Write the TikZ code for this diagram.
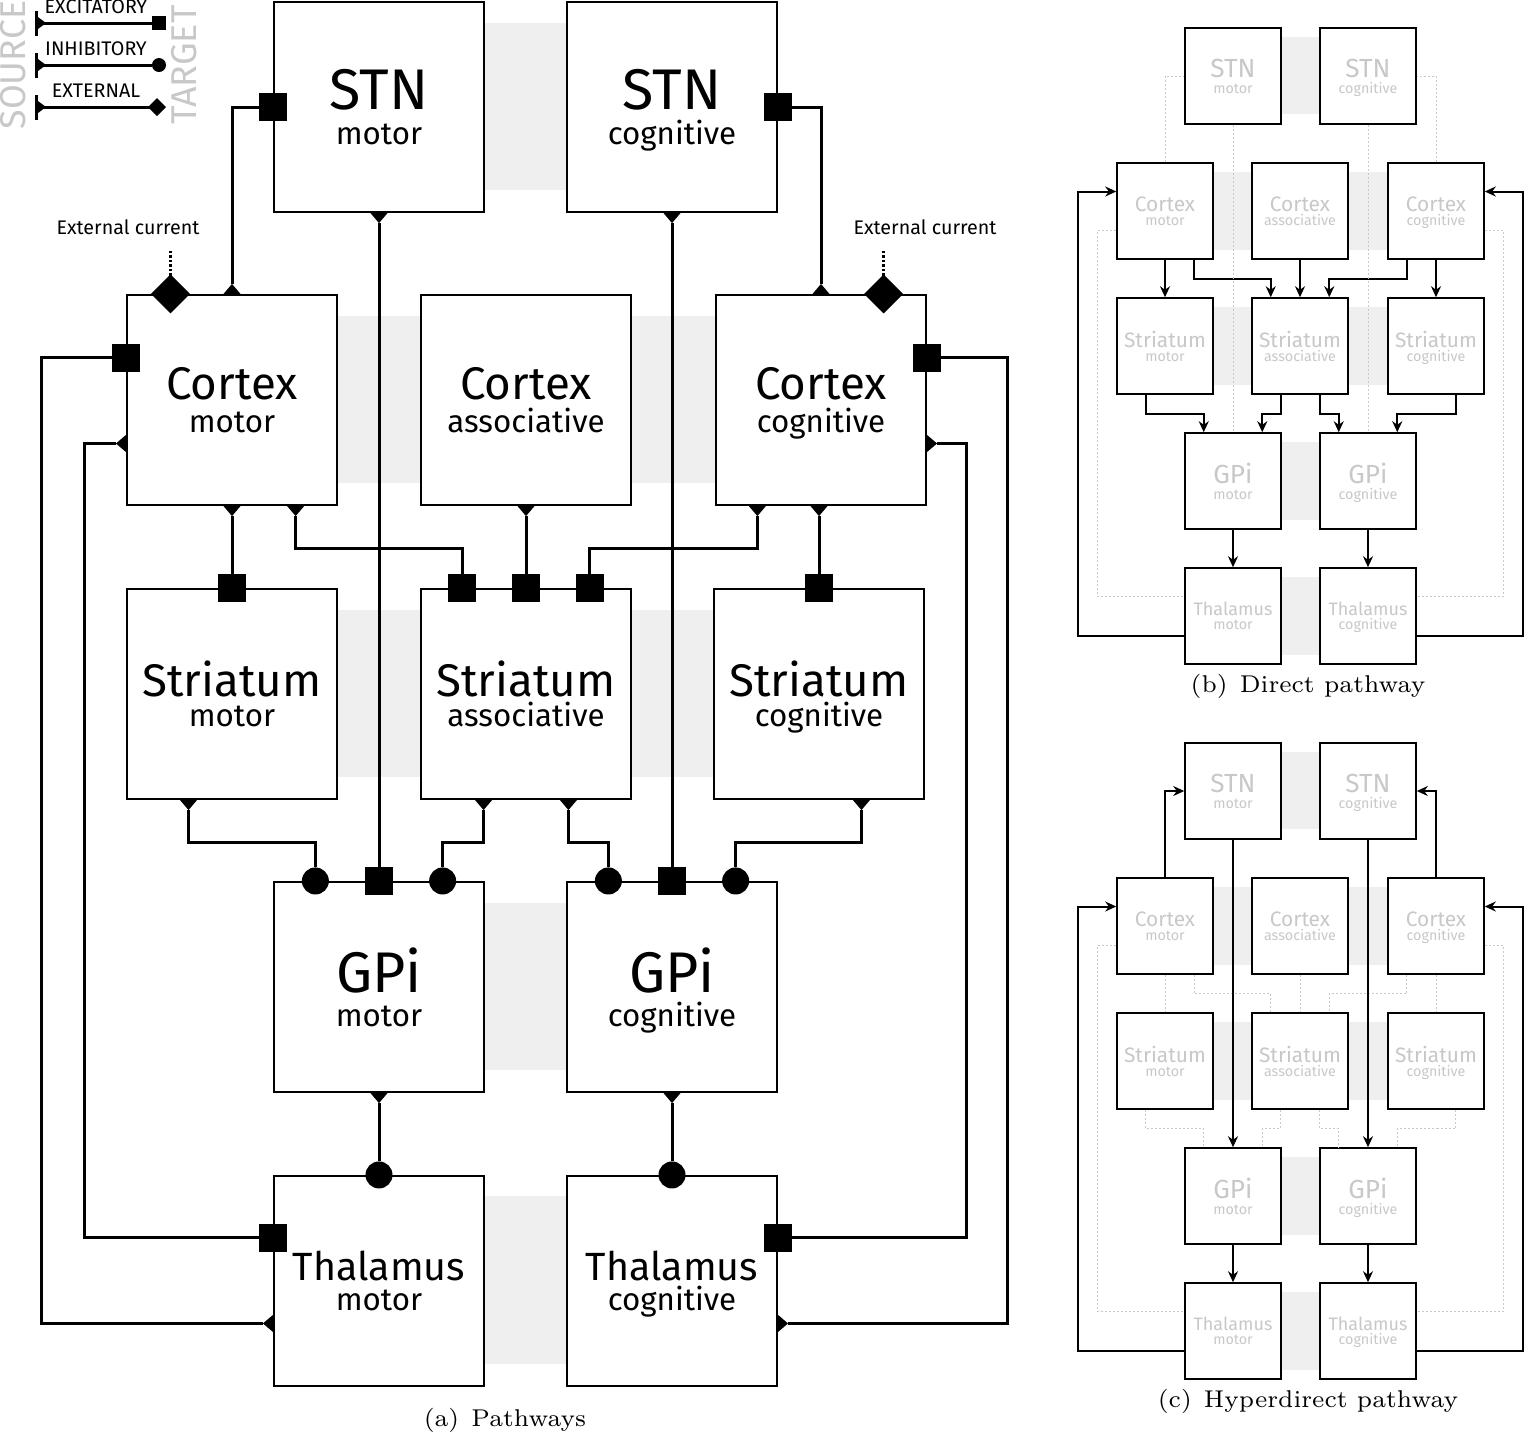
\documentclass[tikz,border=0pt]{standalone}
\usepackage{fontspec}
\newfontfamily\fira{Fira Sans}
\usetikzlibrary{arrows.meta,calc}
\definecolor{band}{HTML}{EFEFEF}
\definecolor{faint}{HTML}{C8C8C8}

\tikzset{
	src/.tip={Triangle[reversed,length=.1cm,width=.17cm,line width=0pt]},
	lsrc/.tip={Triangle[reversed,length=.08cm,width=.12cm,line width=0pt] Bar[width=.25cm,sep=0pt]},
	box/.style={draw,line width=.02cm,fill=white,minimum size=2.1cm,inner sep=0pt,
		align=center,text depth=0pt,font=\fira\fontsize{8.9}{8.6}\selectfont},
	sbox/.style={draw,line width=.015cm,fill=white,minimum size=.96cm,inner sep=0pt,
		align=center,text depth=0pt,text=faint,font=\fira\fontsize{4.07}{3.9}\selectfont},
	lbl/.style={font=\fira\fontsize{5.6}{6}\selectfont,inner sep=0pt},
	cpt/.style={font=\fontsize{6.9}{8}\selectfont},
	wire/.style={line width=.03cm},
	excl/.style={wire,src-{Square[length=.28cm,width=.28cm,line width=0pt]},shorten >=-.14cm},
	inhl/.style={wire,src-{Circle[length=.27cm,line width=0pt]},shorten >=-.135cm},
	extl/.style={line width=.025cm,dash pattern=on .025cm off .02cm,
		-{Turned Square[length=.39cm,width=.39cm,line width=0pt]},shorten >=-.195cm},
	lexcl/.style={wire,lsrc-{Square[length=.14cm,width=.14cm,line width=0pt]}},
	linhl/.style={wire,lsrc-{Circle[length=.14cm,line width=0pt]}},
	lextl/.style={wire,lsrc-{Turned Square[length=.18cm,width=.18cm,line width=0pt]}},
	act/.style={line width=.02cm,-{Stealth[length=.11cm,width=.1cm]}},
	idle/.style={draw=faint,line width=.01cm,dash pattern=on .02cm off .02cm}
}

\begin{document}
\begin{tikzpicture}[x=0.01cm,y=-0.01cm]
	\useasboundingbox (0,0) rectangle (1524,1435);

	% legend
	\node[rotate=90,text=faint,font=\fira\fontsize{10.2}{10}\selectfont,inner sep=0pt] (srctxt) at (13,65) {SOURCE};
	\node[rotate=90,text=faint,font=\fira\fontsize{10.2}{10}\selectfont,inner sep=0pt] (tgttxt) at (184,65) {TARGET};
	\foreach \y/\t/\st in {23/EXCITATORY/lexcl, 65/INHIBITORY/linhl, 107/EXTERNAL/lextl} {
		\coordinate (ls\y) at (35,\y);
		\coordinate (le\y) at (166,\y);
		\draw[\st] (ls\y) -- (le\y);
		\node[lbl] (lg\y) at (96,\y-16) {\t};
	}

	% pathways
	\foreach \xa/\ya/\xb/\yb in {484/23/567/190, 337/316/421/483, 631/316/716/483, 337/610/421/777,
		631/610/714/777, 484/903/567/1070, 484/1196/567/1364}
		\fill[band] (\xa,\ya) rectangle (\xb,\yb);
	\foreach \n/\x/\y/\w/\s/\g/\t in {stnm/379/107/STN/16.3/1.2pt/motor, stnc/672/107/STN/16.3/1.2pt/cognitive,
		ctxm/232/400/Cortex/13/0.6pt/motor, ctxa/526/400/Cortex/13/0.6pt/associative,
		ctxc/821/400/Cortex/13/0.6pt/cognitive, strm/232/694/Striatum/13/0pt/motor,
		stra/526/694/Striatum/13/0pt/associative, strc/819/694/Striatum/13/0pt/cognitive,
		gpim/379/987/GPi/16.3/1.2pt/motor, gpic/672/987/GPi/16.3/1.2pt/cognitive,
		thm/379/1281/Thalamus/11.2/0pt/motor, thc/672/1281/Thalamus/11.2/0pt/cognitive}
		\node[box] (\n) at (\x,\y) {{\fontsize{\s}{\s}\selectfont\w}\\[\g]\t};

	\draw[excl] (stnm.south) -- (gpim.north);
	\draw[excl] (stnc.south) -- (gpic.north);
	\draw[excl] (ctxm.north) |- (stnm.west);
	\draw[excl] (ctxc.north) |- (stnc.east);
	\draw[excl] (ctxm.south) -- (strm.north);
	\draw[excl] (ctxa.south) -- (stra.north);
	\draw[excl] (strc.north |- ctxc.south) -- (strc.north);
	\draw[excl] ($(ctxm.south)!.6!(ctxm.south east)$) -- ++(0,42) -| ($(stra.north)!.6!(stra.north west)$);
	\draw[excl] ($(ctxc.south)!.6!(ctxc.south west)$) -- ++(0,42) -| ($(stra.north)!.6!(stra.north east)$);
	\draw[inhl] ($(strm.south)!.41!(strm.south west)$) -- ++(0,42) -| ($(gpim.north)!.6!(gpim.north west)$);
	\draw[inhl] ($(stra.south)!.4!(stra.south west)$) -- ++(0,42) -| ($(gpim.north)!.6!(gpim.north east)$);
	\draw[inhl] ($(stra.south)!.4!(stra.south east)$) -- ++(0,42) -| ($(gpic.north)!.6!(gpic.north west)$);
	\draw[inhl] ($(strc.south)!.4!(strc.south east)$) -- ++(0,42) -| ($(gpic.north)!.6!(gpic.north east)$);
	\draw[inhl] (gpim.south) -- (thm.north);
	\draw[inhl] (gpic.south) -- (thc.north);
	\draw[excl] ($(thm.west)!.4!(thm.south west)$) -- ++(-231,0) |- ($(ctxm.west)!.4!(ctxm.north west)$);
	\draw[excl] ($(ctxm.west)!.41!(ctxm.south west)$) -- ++(-41,0) |- ($(thm.west)!.41!(thm.north west)$);
	\draw[excl] ($(thc.east)!.4!(thc.south east)$) -- ++(229,0) |- ($(ctxc.east)!.4!(ctxc.north east)$);
	\draw[excl] ($(ctxc.east)!.41!(ctxc.south east)$) -- ++(39,0) |- ($(thc.east)!.41!(thc.north east)$);

	% external current
	\path ($(ctxm.north)!.58!(ctxm.north west)$) ++(0,-43) coordinate (extm);
	\path ($(ctxc.north)!.59!(ctxc.north east)$) ++(0,-43) coordinate (extc);
	\draw[extl] (extm) -- (extm |- ctxm.north);
	\draw[extl] (extc) -- (extc |- ctxc.north);
	\node[lbl] (extmtxt) at (128,227) {External current};
	\node[lbl] (extctxt) at (925,227) {External current};

	\node[cpt] (capa) at (505,1420) {(a)\enspace Pathways};

	% direct and hyperdirect
	\foreach \pn/\dy/\dir/\hyp/\cpt in {b/0/act/idle/Direct pathway, c/715/idle/act/Hyperdirect pathway} {
		\foreach \xa/\ya/\xb/\yb in {1281/37/1320/114, 1214/172/1252/250, 1349/172/1388/250, 1214/307/1252/385,
			1349/307/1387/385, 1281/442/1320/520, 1281/577/1320/655}
			\fill[band] (\xa,\ya+\dy) rectangle (\xb,\yb+\dy);
		\foreach \n/\x/\y/\w/\s/\g/\t in {stnm/1233/76/STN/7.45/0.55pt/motor, stnc/1368/76/STN/7.45/0.55pt/cognitive,
			ctxm/1165/211/Cortex/5.94/0.27pt/motor, ctxa/1300/211/Cortex/5.94/0.27pt/associative,
			ctxc/1436/211/Cortex/5.94/0.27pt/cognitive, strm/1165/346/Striatum/5.94/0pt/motor,
			stra/1300/346/Striatum/5.94/0pt/associative, strc/1436/346/Striatum/5.94/0pt/cognitive,
			gpim/1233/481/GPi/7.45/0.55pt/motor, gpic/1368/481/GPi/7.45/0.55pt/cognitive,
			thm/1233/616/Thalamus/5.12/0pt/motor, thc/1368/616/Thalamus/5.12/0pt/cognitive}
			\node[sbox] (\pn\n) at (\x,\y+\dy) {{\fontsize{\s}{\s}\selectfont\w}\\[\g]\t};

		\draw[\dir] (\pn ctxm.south) -- (\pn strm.north);
		\draw[\dir] (\pn ctxa.south) -- (\pn stra.north);
		\draw[\dir] (\pn ctxc.south) -- (\pn strc.north);
		\draw[\dir] ($(\pn ctxm.south)!.6!(\pn ctxm.south east)$) -- ++(0,19) -| ($(\pn stra.north)!.6!(\pn stra.north west)$);
		\draw[\dir] ($(\pn ctxc.south)!.6!(\pn ctxc.south west)$) -- ++(0,19) -| ($(\pn stra.north)!.6!(\pn stra.north east)$);
		\draw[\dir] ($(\pn strm.south)!.4!(\pn strm.south west)$) -- ++(0,19) -| ($(\pn gpim.north)!.6!(\pn gpim.north west)$);
		\draw[\dir] ($(\pn stra.south)!.4!(\pn stra.south west)$) -- ++(0,19) -| ($(\pn gpim.north)!.6!(\pn gpim.north east)$);
		\draw[\dir] ($(\pn stra.south)!.4!(\pn stra.south east)$) -- ++(0,19) -| ($(\pn gpic.north)!.6!(\pn gpic.north west)$);
		\draw[\dir] ($(\pn strc.south)!.4!(\pn strc.south east)$) -- ++(0,19) -| ($(\pn gpic.north)!.6!(\pn gpic.north east)$);
		\draw[\hyp] (\pn ctxm.north) |- (\pn stnm.west);
		\draw[\hyp] (\pn ctxc.north) |- (\pn stnc.east);
		\draw[\hyp] (\pn stnm.south) -- (\pn gpim.north);
		\draw[\hyp] (\pn stnc.south) -- (\pn gpic.north);
		\draw[act] (\pn gpim.south) -- (\pn thm.north);
		\draw[act] (\pn gpic.south) -- (\pn thc.north);
		\draw[act] ($(\pn thm.west)!.4!(\pn thm.south west)$) -- ++(-106,0) |- ($(\pn ctxm.west)!.4!(\pn ctxm.north west)$);
		\draw[act] ($(\pn thc.east)!.4!(\pn thc.south east)$) -- ++(106,0) |- ($(\pn ctxc.east)!.4!(\pn ctxc.north east)$);
		\draw[idle] ($(\pn ctxm.west)!.4!(\pn ctxm.south west)$) -- ++(-19,0) |- ($(\pn thm.west)!.4!(\pn thm.north west)$);
		\draw[idle] ($(\pn ctxc.east)!.4!(\pn ctxc.south east)$) -- ++(19,0) |- ($(\pn thc.east)!.4!(\pn thc.north east)$);

		\node[cpt] (cap\pn) at (1308,686+\dy) {(\pn)\enspace \cpt};
	}
\end{tikzpicture}
\end{document}
